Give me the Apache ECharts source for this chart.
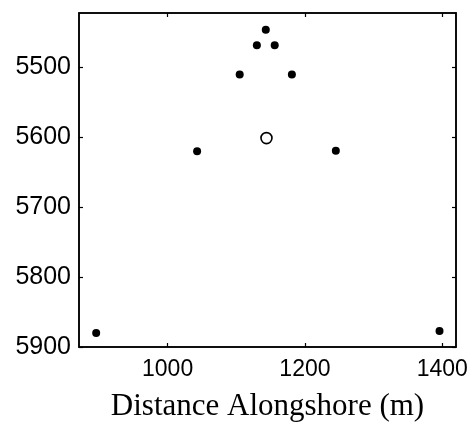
<!DOCTYPE html>
<html>
<head>
<meta charset="utf-8">
<script src="https://cdn.jsdelivr.net/npm/echarts@6/dist/echarts.min.js"></script>
<style>html,body{margin:0;padding:0;background:#fff}#c{width:476px;height:422px}</style>
</head>
<body>
<div id="c"></div>
<script>
var xName = 'Distance Alongshore (m)';
var xTicks = [1000, 1200, 1400];
var yTicks = [5500, 5600, 5700, 5800, 5900];
var xRange = [871, 1420];
var yRange = [5422, 5900];
var filledX = [1143, 1130, 1156, 1105, 1181, 1043, 1245, 896, 1396];
var filledY = [5446, 5468, 5468, 5510, 5510, 5620, 5619, 5880, 5877];
var openX = [1144];
var openY = [5601];

function pairs(xs, ys) { return xs.map(function (x, i) { return [x, ys[i]]; }); }
function plain(v) { return String(v); }

var chart = echarts.init(document.getElementById('c'), null, {renderer: 'canvas'});
var axisLineStyle = {show: true, onZero: false, lineStyle: {color: '#000', width: 1.5}};
chart.setOption({
  animation: false,
  backgroundColor: '#fff',
  grid: {left: 79, right: 20, top: 13, bottom: 75, outerBoundsMode: 'none', containLabel: false,
         show: true, borderColor: '#000', borderWidth: 1.5, backgroundColor: 'transparent'},
  xAxis: [{
    type: 'value', position: 'bottom', min: xRange[0], max: xRange[1],
    name: xName, nameLocation: 'middle', nameGap: 44,
    nameTextStyle: {fontFamily: 'Liberation Serif', fontSize: 31, color: '#000'},
    axisLine: axisLineStyle,
    axisTick: {show: true, inside: true, length: 4, customValues: xTicks, lineStyle: {color: '#000', width: 1.2}},
    axisLabel: {customValues: xTicks, formatter: plain, fontFamily: 'Liberation Sans', fontSize: 23, color: '#000', margin: 11},
    splitLine: {show: false}
  }, {
    type: 'value', position: 'top', min: xRange[0], max: xRange[1],
    axisLine: axisLineStyle,
    axisTick: {show: true, inside: true, length: 4, customValues: xTicks, lineStyle: {color: '#000', width: 1.2}},
    axisLabel: {show: false},
    splitLine: {show: false}
  }],
  yAxis: [{
    type: 'value', position: 'left', inverse: true, min: yRange[0], max: yRange[1],
    axisLine: axisLineStyle,
    axisTick: {show: true, inside: true, length: 4, customValues: yTicks, lineStyle: {color: '#000', width: 1.2}},
    axisLabel: {customValues: yTicks, formatter: plain, fontFamily: 'Liberation Sans', fontSize: 25, color: '#000', margin: 8},
    splitLine: {show: false}
  }, {
    type: 'value', position: 'right', inverse: true, min: yRange[0], max: yRange[1],
    axisLine: axisLineStyle,
    axisTick: {show: true, inside: true, length: 4, customValues: yTicks, lineStyle: {color: '#000', width: 1.2}},
    axisLabel: {show: false},
    splitLine: {show: false}
  }],
  series: [{
    type: 'scatter', xAxisIndex: 0, yAxisIndex: 0,
    data: pairs(filledX, filledY), symbol: 'circle', symbolSize: 8,
    itemStyle: {color: '#000', opacity: 1}
  }, {
    type: 'scatter', xAxisIndex: 0, yAxisIndex: 0,
    data: pairs(openX, openY), symbol: 'circle', symbolSize: 11,
    itemStyle: {color: '#fff', borderColor: '#000', borderWidth: 1.6, opacity: 1}
  }]
});
</script>
</body>
</html>
